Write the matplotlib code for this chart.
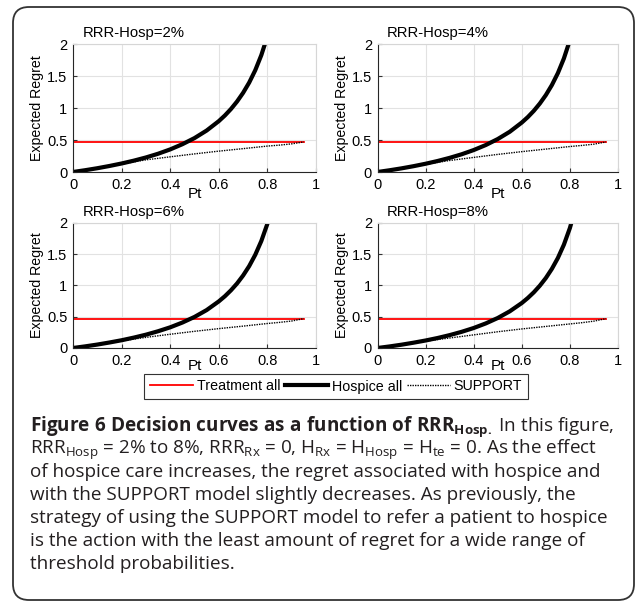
import matplotlib.pyplot as plt
from matplotlib.patches import FancyBboxPatch
from matplotlib.lines import Line2D

plt.rcParams['font.family'] = ['Liberation Sans', 'DejaVu Sans']
plt.rcParams['mathtext.fontset'] = 'custom'
plt.rcParams['mathtext.rm'] = 'Open Sans'
plt.rcParams['mathtext.it'] = 'Open Sans:italic'
plt.rcParams['mathtext.bf'] = 'Open Sans:bold'

# panel titles
titles = ['RRR-Hosp=2%', 'RRR-Hosp=4%', 'RRR-Hosp=6%', 'RRR-Hosp=8%']

# hospice all curves
pt_hosp = [0, 0.05, 0.1, 0.15, 0.2, 0.25, 0.3, 0.35, 0.4, 0.45, 0.5, 0.55, 0.6,
           0.625, 0.65, 0.675, 0.7, 0.725, 0.75, 0.775, 0.8, 0.825]
hosp_2 = [0, 0.028, 0.059, 0.094, 0.133, 0.177, 0.227, 0.285, 0.353, 0.434, 0.53, 0.648, 0.795,
          0.883, 0.984, 1.101, 1.237, 1.397, 1.59, 1.826, 2.12, 2.5]
hosp_4 = [0, 0.027, 0.057, 0.091, 0.129, 0.172, 0.221, 0.277, 0.343, 0.421, 0.515, 0.629, 0.773,
          0.858, 0.956, 1.07, 1.202, 1.358, 1.545, 1.774, 2.06, 2.43]
hosp_6 = [0, 0.026, 0.055, 0.088, 0.124, 0.166, 0.213, 0.268, 0.331, 0.407, 0.497, 0.607, 0.746,
          0.828, 0.923, 1.032, 1.16, 1.31, 1.491, 1.712, 1.988, 2.34]
hosp_8 = [0, 0.025, 0.053, 0.085, 0.12, 0.16, 0.206, 0.259, 0.32, 0.393, 0.48, 0.587, 0.72,
          0.8, 0.891, 0.997, 1.12, 1.266, 1.44, 1.653, 1.92, 2.26]

# SUPPORT model curves
pt_supp = [0, 0.1, 0.2, 0.3, 0.4, 0.5, 0.6, 0.7, 0.8, 0.85, 0.9, 0.95]
supp_2 = [0, 0.059, 0.125, 0.19, 0.237, 0.283, 0.326, 0.365, 0.405, 0.42, 0.44, 0.47]
supp_4 = [0, 0.057, 0.12, 0.18, 0.228, 0.275, 0.318, 0.358, 0.398, 0.415, 0.435, 0.47]
supp_6 = [0, 0.055, 0.115, 0.17, 0.22, 0.267, 0.31, 0.35, 0.392, 0.41, 0.432, 0.47]
supp_8 = [0, 0.053, 0.11, 0.16, 0.21, 0.26, 0.305, 0.345, 0.385, 0.405, 0.43, 0.47]

# treatment all
pt_treat = [0, 0.95]
treat = [0.47, 0.47]

hosp = [hosp_2, hosp_4, hosp_6, hosp_8]
supp = [supp_2, supp_4, supp_6, supp_8]

caption = [
    r"$\mathbf{Figure\ 6\ Decision\ curves\ as\ a\ function\ of\ RRR_{Hosp.}}$ In this figure,",
    r"RRR$_{\mathrm{Hosp}}$ = 2% to 8%, RRR$_{\mathrm{Rx}}$ = 0, H$_{\mathrm{Rx}}$ = H$_{\mathrm{Hosp}}$ = H$_{\mathrm{te}}$ = 0. As the effect",
    "of hospice care increases, the regret associated with hospice and",
    "with the SUPPORT model slightly decreases. As previously, the",
    "strategy of using the SUPPORT model to refer a patient to hospice",
    "is the action with the least amount of regret for a wide range of",
    "threshold probabilities.",
]

W, H = 637, 604
fig = plt.figure(figsize=(W / 100, H / 100), dpi=100)

# rounded frame around figure + caption
frame = FancyBboxPatch((13, 4), 621, 593, boxstyle='round,pad=0,rounding_size=16',
                       transform=None, fill=False, edgecolor='#333333', linewidth=1.3)
fig.patches.append(frame)

# axes boxes in pixels: left, top, right, bottom
boxes = [(73, 44, 316, 172), (377.5, 44, 618, 172),
         (73, 223, 316, 348), (377.5, 223, 618, 348)]

for i, (l, t, r, b) in enumerate(boxes):
    ax = fig.add_axes([l / W, 1 - b / H, (r - l) / W, (b - t) / H])
    ax.plot(pt_treat, treat, color='#ff0000', lw=1.3)
    ax.plot(pt_hosp, hosp[i], color='black', lw=3)
    ax.plot(pt_supp, supp[i], color='black', lw=1.0, ls=(0, (1, 0.8)))
    ax.set_xlim(0, 1)
    ax.set_ylim(0, 2)
    ax.set_xticks([0, 0.2, 0.4, 0.6, 0.8, 1])
    ax.set_xticklabels(['0', '0.2', '0.4', '0.6', '0.8', '1'])
    ax.set_yticks([0, 0.5, 1, 1.5, 2])
    ax.set_yticklabels(['0', '0.5', '1', '1.5', '2'])
    ax.grid(True, color='#e2e2e2', lw=0.8)
    ax.set_axisbelow(True)
    ax.tick_params(direction='in', length=3, labelsize=10.5, pad=4, color='#333333')
    for s in ['top', 'right']:
        ax.spines[s].set_color('#d6d6d6')
    for s in ['left', 'bottom']:
        ax.spines[s].set_color('#262626')
    ax.text(0.04, 1.03, titles[i], transform=ax.transAxes, fontsize=10.7, va='bottom')
    # xlabel sits between the 0.4 and 0.6 tick labels, like the original
    pt_y = -22 / (b - t) if i < 2 else -18.5 / (b - t)
    ax.text(0.5, pt_y, 'Pt', transform=ax.transAxes, fontsize=11, ha='center', va='center')
    ax.text(-36 / (r - l), 0.5, 'Expected Regret', transform=ax.transAxes, fontsize=10.2,
            rotation=90, ha='center', va='center')

handles = [Line2D([], [], color='#ff0000', lw=1.3),
           Line2D([], [], color='black', lw=3),
           Line2D([], [], color='black', lw=1.0, ls=(0, (1, 0.8)))]
leg = fig.legend(handles, ['Treatment all', 'Hospice all', 'SUPPORT'], loc='center',
                 bbox_to_anchor=(336 / W, 1 - 386.5 / H), ncol=3, fontsize=10.3,
                 handlelength=3.0, handletextpad=0.25, columnspacing=0.35, borderpad=0.4,
                 fancybox=False, framealpha=1)
leg.get_frame().set_edgecolor('#333333')
leg.get_frame().set_linewidth(0.8)
leg.set_zorder(1)

y0 = 431
for k, line in enumerate(caption):
    fig.text(30.5 / W, 1 - (y0 + 23 * k) / H, line, fontsize=13.6, family='Open Sans',
             va='baseline', ha='left', color='#231f20')

fig.savefig('out.png', dpi=100)
